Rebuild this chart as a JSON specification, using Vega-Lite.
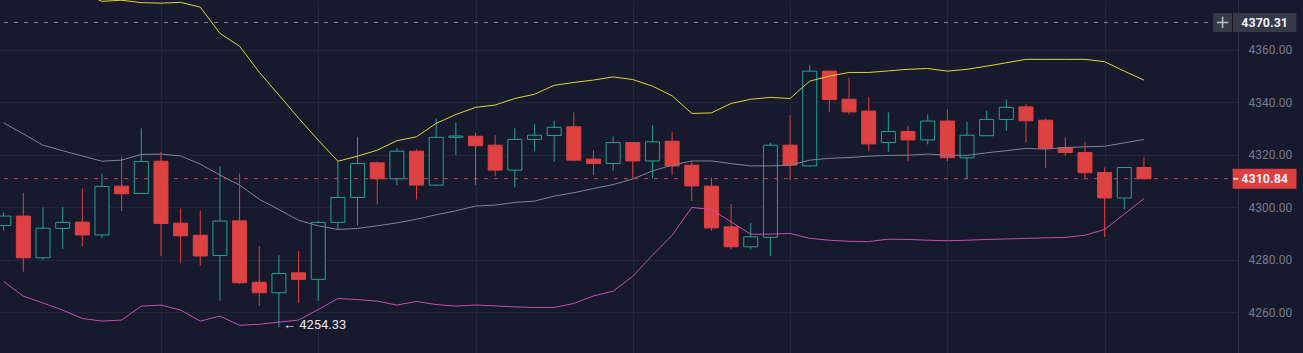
{
  "$schema": "https://vega.github.io/schema/vega-lite/v6.json",
  "width": 1238,
  "height": 353,
  "autosize": {"type": "none"},
  "padding": {"left": 0, "top": 0, "right": 65, "bottom": 0},
  "background": "#161a2c",
  "config": {
    "view": {"stroke": null},
    "font": "Roboto",
    "axis": {"gridColor": "#22263a", "gridWidth": 1, "title": null}
  },
  "datasets": {
    "candles": [
      {"k":0,"o":4293.0,"h":4298.0,"l":4291.0,"c":4296.6,"d":"up","m":4332.1,"u":4392.5,"b":4271.7},
      {"k":1,"o":4296.6,"h":4305.5,"l":4275.4,"c":4280.7,"d":"down","m":4327.9,"u":4389.7,"b":4266.1},
      {"k":2,"o":4280.7,"h":4299.9,"l":4280.1,"c":4292.0,"d":"up","m":4323.6,"u":4383.7,"b":4263.5},
      {"k":3,"o":4291.9,"h":4300.1,"l":4284.1,"c":4294.2,"d":"up","m":4321.5,"u":4382.2,"b":4260.8},
      {"k":4,"o":4294.3,"h":4307.1,"l":4285.1,"c":4289.4,"d":"down","m":4319.5,"u":4381.4,"b":4257.6},
      {"k":5,"o":4289.4,"h":4312.8,"l":4288.3,"c":4307.9,"d":"up","m":4317.5,"u":4378.4,"b":4256.6},
      {"k":6,"o":4308.0,"h":4319.2,"l":4298.5,"c":4305.1,"d":"down","m":4317.9,"u":4378.8,"b":4257.0},
      {"k":7,"o":4305.2,"h":4330.0,"l":4305.0,"c":4317.4,"d":"up","m":4320.1,"u":4377.9,"b":4262.3},
      {"k":8,"o":4317.5,"h":4321.1,"l":4281.4,"c":4293.8,"d":"down","m":4320.2,"u":4377.7,"b":4262.7},
      {"k":9,"o":4293.9,"h":4299.5,"l":4278.6,"c":4289.1,"d":"down","m":4319.5,"u":4378.0,"b":4260.8},
      {"k":10,"o":4289.3,"h":4298.6,"l":4277.6,"c":4281.4,"d":"down","m":4316.4,"u":4376.2,"b":4256.6},
      {"k":11,"o":4281.6,"h":4315.6,"l":4264.3,"c":4294.7,"d":"up","m":4312.2,"u":4366.2,"b":4258.5},
      {"k":12,"o":4294.8,"h":4312.8,"l":4270.8,"c":4271.2,"d":"down","m":4308.4,"u":4361.3,"b":4255.0},
      {"k":13,"o":4271.4,"h":4285.1,"l":4262.4,"c":4267.4,"d":"down","m":4303.0,"u":4351.4,"b":4255.4},
      {"k":14,"o":4267.4,"h":4281.7,"l":4254.33,"c":4274.7,"d":"up","m":4299.1,"u":4342.7,"b":4256.2},
      {"k":15,"o":4275.0,"h":4283.2,"l":4263.5,"c":4272.5,"d":"down","m":4295.0,"u":4333.9,"b":4257.0},
      {"k":16,"o":4272.5,"h":4294.7,"l":4264.3,"c":4294.2,"d":"up","m":4292.9,"u":4325.5,"b":4261.0},
      {"k":17,"o":4294.2,"h":4317.5,"l":4291.6,"c":4303.7,"d":"up","m":4291.5,"u":4317.5,"b":4265.2},
      {"k":18,"o":4303.7,"h":4326.8,"l":4293.1,"c":4316.6,"d":"up","m":4291.9,"u":4319.4,"b":4264.8},
      {"k":19,"o":4316.9,"h":4317.4,"l":4301.0,"c":4310.8,"d":"down","m":4292.9,"u":4321.7,"b":4264.2},
      {"k":20,"o":4310.8,"h":4322.4,"l":4308.4,"c":4321.3,"d":"up","m":4294.0,"u":4325.3,"b":4262.7},
      {"k":21,"o":4321.3,"h":4322.0,"l":4302.9,"c":4308.4,"d":"down","m":4295.4,"u":4326.8,"b":4264.1},
      {"k":22,"o":4308.4,"h":4333.8,"l":4308.0,"c":4326.6,"d":"up","m":4297.1,"u":4331.9,"b":4262.9},
      {"k":23,"o":4326.6,"h":4332.1,"l":4319.8,"c":4327.1,"d":"up","m":4298.6,"u":4335.3,"b":4262.3},
      {"k":24,"o":4327.0,"h":4328.3,"l":4308.4,"c":4323.4,"d":"down","m":4300.4,"u":4338.0,"b":4262.7},
      {"k":25,"o":4323.6,"h":4327.4,"l":4311.8,"c":4314.1,"d":"down","m":4300.8,"u":4338.9,"b":4262.4},
      {"k":26,"o":4314.1,"h":4330.0,"l":4307.5,"c":4325.8,"d":"up","m":4301.8,"u":4341.4,"b":4262.0},
      {"k":27,"o":4325.8,"h":4331.6,"l":4321.3,"c":4327.4,"d":"up","m":4302.3,"u":4343.0,"b":4261.8},
      {"k":28,"o":4327.3,"h":4332.9,"l":4317.3,"c":4330.4,"d":"up","m":4304.2,"u":4346.4,"b":4261.8},
      {"k":29,"o":4330.6,"h":4336.1,"l":4317.5,"c":4317.9,"d":"down","m":4305.5,"u":4347.5,"b":4263.3},
      {"k":30,"o":4318.3,"h":4321.7,"l":4312.2,"c":4316.6,"d":"down","m":4307.1,"u":4348.4,"b":4266.2},
      {"k":31,"o":4316.6,"h":4327.0,"l":4313.8,"c":4324.6,"d":"up","m":4308.6,"u":4349.6,"b":4268.0},
      {"k":32,"o":4324.6,"h":4324.8,"l":4310.9,"c":4317.6,"d":"down","m":4310.7,"u":4348.6,"b":4273.7},
      {"k":33,"o":4317.6,"h":4331.2,"l":4310.9,"c":4324.9,"d":"up","m":4313.8,"u":4346.1,"b":4281.7},
      {"k":34,"o":4325.1,"h":4328.5,"l":4312.2,"c":4315.7,"d":"down","m":4316.0,"u":4342.4,"b":4289.3},
      {"k":35,"o":4316.0,"h":4317.6,"l":4302.4,"c":4308.1,"d":"down","m":4317.6,"u":4335.7,"b":4299.9},
      {"k":36,"o":4308.0,"h":4311.3,"l":4291.0,"c":4292.1,"d":"down","m":4317.6,"u":4335.9,"b":4299.1},
      {"k":37,"o":4292.5,"h":4301.1,"l":4283.9,"c":4284.9,"d":"down","m":4316.6,"u":4339.5,"b":4294.4},
      {"k":38,"o":4284.9,"h":4294.0,"l":4283.9,"c":4288.7,"d":"up","m":4315.7,"u":4341.1,"b":4289.7},
      {"k":39,"o":4288.5,"h":4324.5,"l":4281.3,"c":4323.6,"d":"up","m":4315.7,"u":4341.8,"b":4289.7},
      {"k":40,"o":4323.6,"h":4335.0,"l":4310.3,"c":4316.0,"d":"down","m":4316.0,"u":4341.4,"b":4290.0},
      {"k":41,"o":4315.7,"h":4354.1,"l":4315.4,"c":4351.8,"d":"up","m":4317.9,"u":4348.0,"b":4288.1},
      {"k":42,"o":4351.8,"h":4352.0,"l":4336.3,"c":4341.0,"d":"down","m":4318.6,"u":4349.9,"b":4287.4},
      {"k":43,"o":4341.1,"h":4349.3,"l":4335.3,"c":4336.3,"d":"down","m":4318.9,"u":4351.3,"b":4287.0},
      {"k":44,"o":4336.6,"h":4342.0,"l":4321.3,"c":4324.1,"d":"down","m":4319.4,"u":4351.3,"b":4286.9},
      {"k":45,"o":4324.6,"h":4336.1,"l":4321.1,"c":4328.8,"d":"up","m":4319.7,"u":4351.9,"b":4287.8},
      {"k":46,"o":4328.8,"h":4331.0,"l":4317.5,"c":4325.6,"d":"down","m":4319.8,"u":4352.5,"b":4287.7},
      {"k":47,"o":4325.6,"h":4335.3,"l":4323.9,"c":4332.8,"d":"up","m":4320.2,"u":4352.8,"b":4287.4},
      {"k":48,"o":4332.8,"h":4337.3,"l":4317.5,"c":4318.8,"d":"down","m":4319.8,"u":4351.8,"b":4287.2},
      {"k":49,"o":4318.8,"h":4332.5,"l":4310.9,"c":4327.4,"d":"up","m":4319.7,"u":4352.5,"b":4287.4},
      {"k":50,"o":4327.2,"h":4336.7,"l":4327.0,"c":4333.4,"d":"up","m":4320.7,"u":4353.7,"b":4287.7},
      {"k":51,"o":4333.4,"h":4341.1,"l":4329.1,"c":4338.0,"d":"up","m":4321.5,"u":4355.0,"b":4287.9},
      {"k":52,"o":4338.2,"h":4339.2,"l":4324.6,"c":4332.9,"d":"down","m":4322.4,"u":4356.3,"b":4288.1},
      {"k":53,"o":4333.1,"h":4333.8,"l":4315.0,"c":4322.4,"d":"down","m":4322.1,"u":4356.3,"b":4288.3},
      {"k":54,"o":4322.7,"h":4326.4,"l":4319.5,"c":4320.8,"d":"down","m":4322.7,"u":4356.3,"b":4288.5},
      {"k":55,"o":4320.8,"h":4324.9,"l":4310.9,"c":4313.1,"d":"down","m":4323.0,"u":4356.3,"b":4289.3},
      {"k":56,"o":4313.2,"h":4315.1,"l":4288.7,"c":4303.5,"d":"down","m":4323.2,"u":4355.4,"b":4291.5},
      {"k":57,"o":4303.5,"h":4315.1,"l":4299.1,"c":4315.1,"d":"up","m":4324.5,"u":4351.8,"b":4297.3},
      {"k":58,"o":4315.1,"h":4319.2,"l":4310.6,"c":4310.84,"d":"down","m":4325.8,"u":4348.4,"b":4303.3}
    ],
    "prices": [
      {"p": 4370.31, "label": "4370.31", "kind": "cross"},
      {"p": 4310.84, "label": "4310.84", "kind": "last"}
    ],
    "notes": [
      {"k": 14, "l": 4254.33, "t": "← 4254.33"}
    ]
  },
  "layer": [
    {
      "data": {"name": "candles"},
      "mark": {"type": "rule", "strokeWidth": 1, "clip": true},
      "encoding": {
        "x": {
          "field": "k", "type": "quantitative", "title": null,
          "scale": {"domain": [0.067, 62.53], "nice": false, "zero": false},
          "axis": {"values": [8, 16, 24, 32, 40, 48, 56], "labels": false, "ticks": false, "domain": false, "grid": true}
        },
        "y": {
          "field": "l", "type": "quantitative", "title": null,
          "scale": {"domain": [4244.45, 4378.9], "nice": false, "zero": false},
          "axis": {"orient": "right", "values": [4260, 4280, 4300, 4320, 4340, 4360], "format": ".2f", "grid": true, "ticks": false, "domain": true, "domainColor": "#2a2e40", "labelColor": "#767a8c", "labelFontSize": 12, "labelFont": "Roboto", "labelPadding": 10, "labelAlign": "left", "labelBaseline": "middle"}
        },
        "y2": {"field": "h"},
        "stroke": {"field": "d", "type": "nominal", "scale": {"domain": ["up", "down"], "range": ["#22a393", "#de4141"]}, "legend": null}
      }
    },
    {
      "data": {"name": "candles"},
      "mark": {"type": "bar", "width": 14, "strokeWidth": 1, "clip": true},
      "encoding": {
        "x": {"field": "k", "type": "quantitative", "title": null},
        "y": {"field": "o", "type": "quantitative", "title": null},
        "y2": {"field": "c"},
        "fill": {"field": "d", "type": "nominal", "scale": {"domain": ["up", "down"], "range": ["#161a2c", "#de4141"]}, "legend": null},
        "stroke": {"field": "d", "type": "nominal", "legend": null}
      }
    },
    {
      "data": {"name": "candles"},
      "mark": {"type": "line", "color": "#dcd62e", "strokeWidth": 1, "clip": true},
      "encoding": {
        "x": {"field": "k", "type": "quantitative", "title": null},
        "y": {"field": "u", "type": "quantitative", "title": null}
      }
    },
    {
      "data": {"name": "candles"},
      "mark": {"type": "line", "color": "#7f8292", "strokeWidth": 1, "clip": true},
      "encoding": {
        "x": {"field": "k", "type": "quantitative", "title": null},
        "y": {"field": "m", "type": "quantitative", "title": null}
      }
    },
    {
      "data": {"name": "candles"},
      "mark": {"type": "line", "color": "#c94db2", "strokeWidth": 1, "clip": true},
      "encoding": {
        "x": {"field": "k", "type": "quantitative", "title": null},
        "y": {"field": "b", "type": "quantitative", "title": null}
      }
    },
    {
      "data": {"name": "prices"},
      "mark": {"type": "rule", "strokeWidth": 1, "strokeDash": [4, 6]},
      "encoding": {
        "y": {"field": "p", "type": "quantitative", "title": null},
        "color": {"field": "kind", "type": "nominal", "scale": {"domain": ["cross", "last"], "range": ["#7e8292", "#c9485e"]}, "legend": null}
      }
    },
    {
      "data": {"name": "prices"},
      "transform": [{"filter": "datum.kind === 'cross'"}],
      "mark": {"type": "rect", "color": "#353948", "yOffset": -9.5, "y2Offset": 9.5},
      "encoding": {
        "x": {"datum": 61.52, "type": "quantitative", "title": null},
        "x2": {"datum": 62.48},
        "y": {"field": "p", "type": "quantitative", "title": null},
        "y2": {"field": "p"}
      }
    },
    {
      "data": {"name": "prices"},
      "transform": [{"filter": "datum.kind === 'cross'"}],
      "mark": {"type": "rect", "color": "#353948", "yOffset": -9.5, "y2Offset": 9.5},
      "encoding": {
        "x": {"datum": 62.53, "type": "quantitative", "title": null},
        "x2": {"datum": 65.76},
        "y": {"field": "p", "type": "quantitative", "title": null},
        "y2": {"field": "p"}
      }
    },
    {
      "data": {"name": "prices"},
      "transform": [{"filter": "datum.kind === 'last'"}],
      "mark": {"type": "rect", "color": "#dc3f3f", "yOffset": -10, "y2Offset": 10},
      "encoding": {
        "x": {"datum": 62.51, "type": "quantitative", "title": null},
        "x2": {"datum": 65.76},
        "y": {"field": "p", "type": "quantitative", "title": null},
        "y2": {"field": "p"}
      }
    },
    {
      "data": {"name": "prices"},
      "transform": [{"filter": "datum.kind === 'last'"}],
      "mark": {"type": "rule", "color": "#ffffff", "strokeWidth": 1.5},
      "encoding": {
        "x": {"datum": 62.55, "type": "quantitative", "title": null},
        "x2": {"datum": 62.8},
        "y": {"field": "p", "type": "quantitative", "title": null}
      }
    },
    {
      "data": {"name": "prices"},
      "mark": {"type": "text", "align": "center", "baseline": "middle", "fontSize": 12.5, "fontWeight": "bold", "font": "Roboto", "color": "#eef0f4"},
      "encoding": {
        "x": {"datum": 64.14, "type": "quantitative", "title": null},
        "y": {"field": "p", "type": "quantitative", "title": null},
        "text": {"field": "label"}
      }
    },
    {
      "data": {"name": "prices"},
      "transform": [{"filter": "datum.kind === 'cross'"}],
      "mark": {"type": "text", "align": "center", "baseline": "middle", "fontSize": 18, "font": "DejaVu Sans", "color": "#b8bbc6", "text": "+"},
      "encoding": {
        "x": {"datum": 62.0, "type": "quantitative", "title": null},
        "y": {"field": "p", "type": "quantitative", "title": null}
      }
    },
    {
      "data": {"name": "notes"},
      "mark": {"type": "text", "align": "left", "baseline": "middle", "dx": 4, "dy": -2, "fontSize": 13, "font": "Roboto", "color": "#e4e6ec"},
      "encoding": {
        "x": {"field": "k", "type": "quantitative", "title": null},
        "y": {"field": "l", "type": "quantitative", "title": null},
        "text": {"field": "t"}
      }
    }
  ]
}
